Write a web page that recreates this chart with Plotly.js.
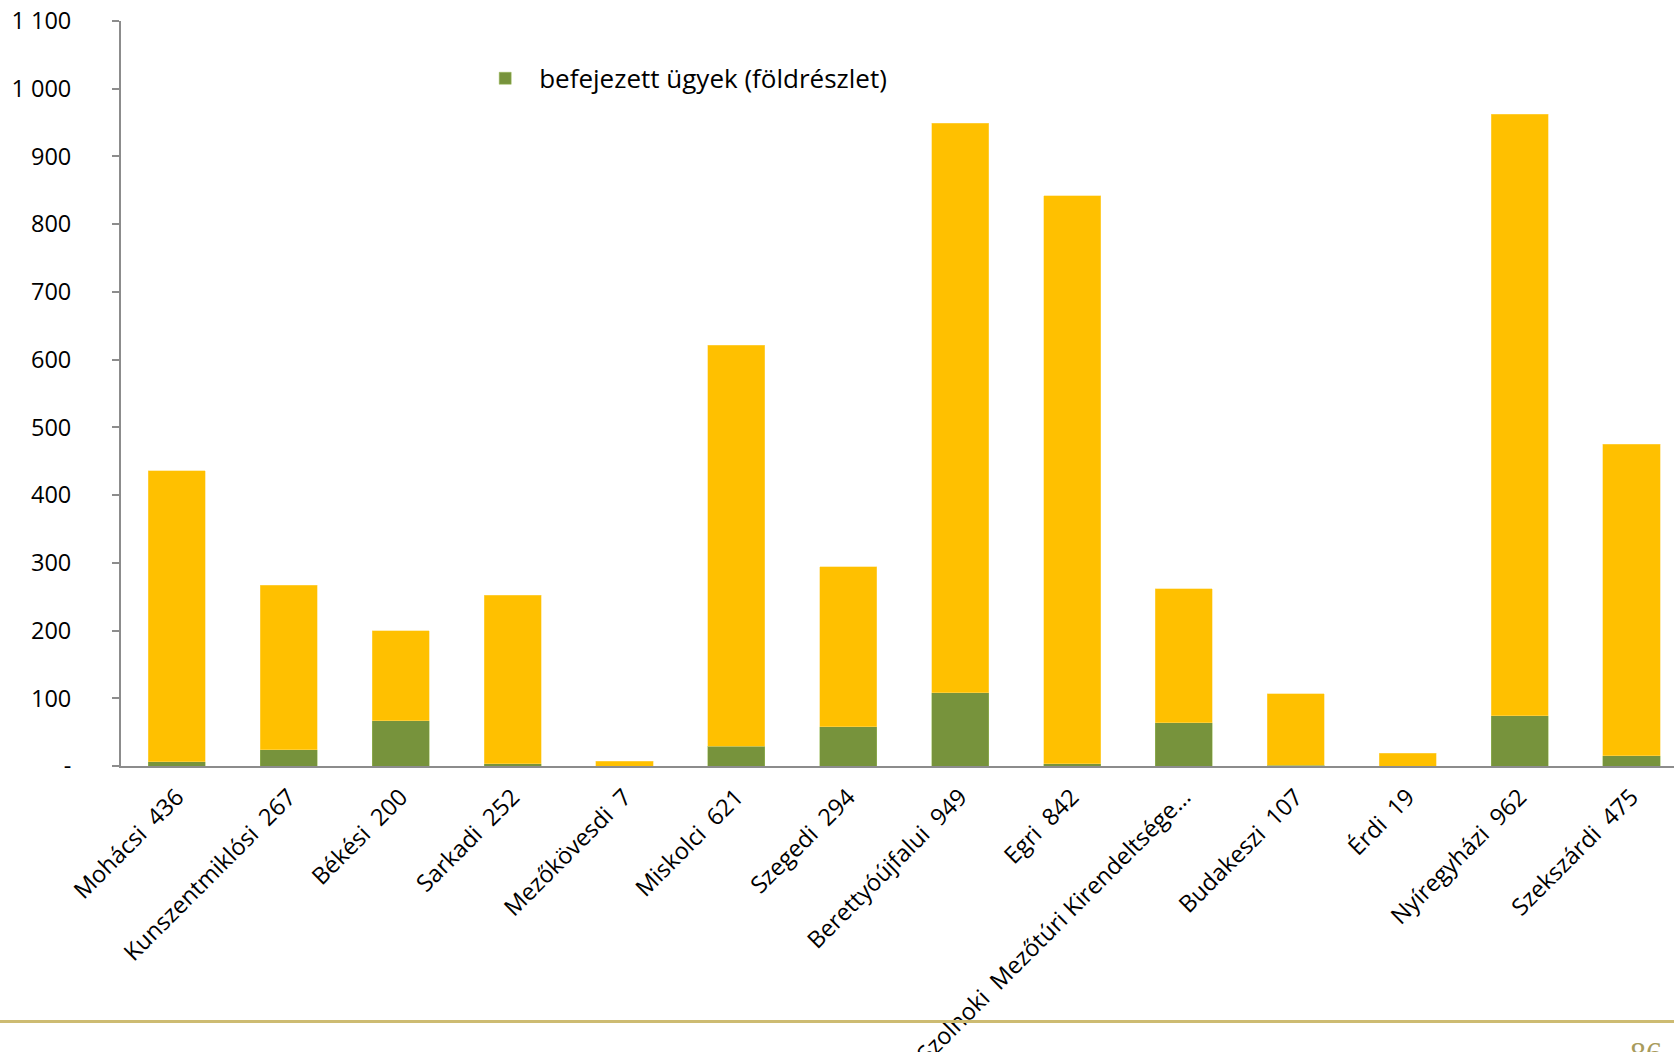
<!DOCTYPE html>
<html>
<head>
<meta charset="utf-8">
<script src="https://cdn.plot.ly/plotly-3.0.1.min.js"></script>
<style>
html, body { margin: 0; padding: 0; background: #ffffff; }
#chart { width: 1674px; height: 1052px; }
</style>
</head>
<body>
<div id="chart"></div>
<script>
// Data
const names = ["Mohácsi", "Kunszentmiklósi", "Békési", "Sarkadi", "Mezőkövesdi", "Miskolci", "Szegedi",
  "Berettyóújfalui", "Egri", "Szolnoki  Mezőtúri Kirendeltsége...", "Budakeszi", "Érdi", "Nyíregyházi", "Szekszárdi"];
const totals = [436, 267, 200, 252, 7, 621, 294, 949, 842, 262, 107, 19, 962, 475];
const showTotalInLabel = [true, true, true, true, true, true, true, true, true, false, true, true, true, true];
const completed = [6, 24, 67, 3, 0, 29, 58, 108, 3, 64, 1, 0, 74, 15];
const yTickVals = [0, 100, 200, 300, 400, 500, 600, 700, 800, 900, 1000, 1100];
const yTickText = ["-", "100", "200", "300", "400", "500", "600", "700", "800", "900", "1 000", "1 100"];
const legendName = "befejezett ügyek (földrészlet)";
const pageNumber = "86";

const labels = names.map((n, i) => showTotalInLabel[i] ? n + "\u00a0 " + totals[i] : n.replace("  ", "\u00a0 "));
const remaining = totals.map((t, i) => t - completed[i]);

const font = "'Open Sans', 'Noto Sans', sans-serif";

const traces = [
  {
    type: "bar", x: labels, y: completed, name: legendName,
    marker: { color: "#77933C", line: { color: "#9BBB59", width: 0.5 } },
    width: 0.51, showlegend: true, hoverinfo: "x+y"
  },
  {
    type: "bar", x: labels, y: remaining, name: "",
    marker: { color: "#FFC000", line: { color: "#FFD966", width: 0.5 } },
    width: 0.51, showlegend: false, hoverinfo: "x+y"
  }
];

const layout = {
  width: 1674, height: 1052,
  paper_bgcolor: "#ffffff", plot_bgcolor: "#ffffff",
  barmode: "stack",
  margin: { l: 121, r: 0, t: 21, b: 286, pad: 0 },
  font: { family: font, size: 23, color: "#000000" },
  xaxis: {
    type: "category",
    range: [-0.5, 13.38],
    tickangle: -45,
    showline: true, linecolor: "#8c8c8c", linewidth: 2,
    ticks: "", showgrid: false, zeroline: false,
    tickfont: { family: font, size: 23.5, color: "#000000" },
    ticklabelstandoff: 6
  },
  yaxis: {
    range: [0, 1100],
    tickvals: yTickVals, ticktext: yTickText,
    showline: true, linecolor: "#8c8c8c", linewidth: 2,
    ticks: "outside", ticklen: 7, tickcolor: "#8c8c8c", tickwidth: 2,
    showgrid: false, zeroline: false,
    tickfont: { family: font, size: 23.5, color: "#000000" },
    ticklabelstandoff: 36
  },
  legend: {
    x: 0.2255, y: 0.923, xanchor: "left", yanchor: "middle",
    bgcolor: "rgba(0,0,0,0)",
    font: { family: font, size: 26, color: "#000000" },
    itemwidth: 58
  },
  shapes: [
    { type: "line", xref: "paper", yref: "paper", x0: -0.08, x1: 1, y0: -0.343, y1: -0.343,
      line: { color: "#CDBB72", width: 3 } }
  ],
  annotations: [
    { xref: "paper", yref: "paper", x: 0.982, y: -0.359, xanchor: "center", yanchor: "top",
      text: pageNumber, showarrow: false, font: { family: "'Liberation Serif', serif", size: 32, color: "#A89B5C" } }
  ]
};

Plotly.newPlot("chart", traces, layout, { displayModeBar: false, staticPlot: true });
</script>
</body>
</html>
